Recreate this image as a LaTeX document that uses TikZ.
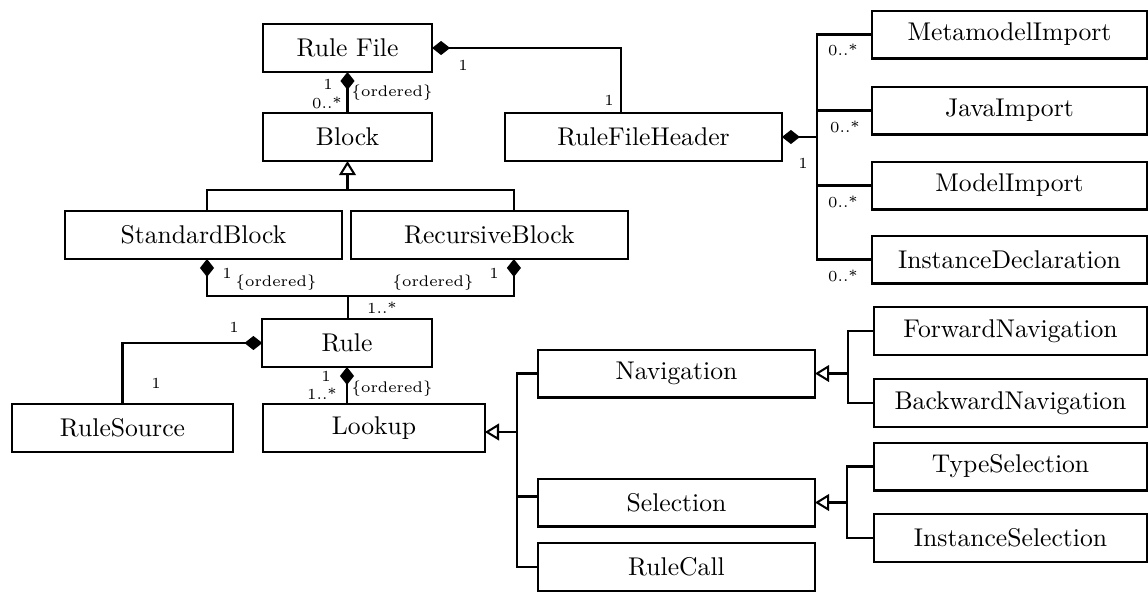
\documentclass[tikz,border=0pt]{standalone}
\usetikzlibrary{arrows.meta, positioning, calc}

\begin{document}
\begin{tikzpicture}[
    x=0.39pt, y=-0.39pt,
    box/.style={rectangle, draw=black, line width=0.8pt, minimum width=66pt, minimum height=18.7pt, inner sep=0pt, outer sep=0pt},
    wide/.style={box, minimum width=108pt},
    mid/.style={box, minimum width=86.5pt},
    link/.style={line width=0.8pt},
    comp/.style={link, {Diamond[length=7pt,width=5.5pt]}-},
    gen/.style={link, {Triangle[open,length=5.5pt,width=6.5pt]}-},
    mult/.style={font=\fontsize{6}{7}\selectfont, inner sep=0pt}
]
    \useasboundingbox (0,0) rectangle (1148,592);

    \node[box] (rulefile) at (347.5,48) {Rule File};
    \node[box] (block) at (347.5,137) {Block};
    \node[wide] (header) at (643.5,137) {RuleFileHeader};
    \node[wide] (stdblock) at (203.5,235) {StandardBlock};
    \node[wide, right=3.5pt of stdblock] (recblock) {RecursiveBlock};
    \node[box] (rule) at (347,343) {Rule};
    \node[mid] (rulesource) at (122.5,428) {RuleSource};
    \node[mid] (lookup) at (374,428) {Lookup};

    % imports
    \node[wide, minimum width=107pt] (metaimp) at (1009.5,34.5) {MetamodelImport};
    \node[wide, minimum width=107pt] (javaimp) at (1009.5,110.5) {JavaImport};
    \node[wide, minimum width=107pt] (modelimp) at (1009.5,185.5) {ModelImport};
    \node[wide, minimum width=107pt] (instdecl) at (1009.5,259.5) {InstanceDeclaration};

    % lookups
    \node[wide] (navigation) at (676.5,373.5) {Navigation};
    \node[wide] (selection) at (676.5,502.5) {Selection};
    \node[wide] (rulecall) at (676.5,567) {RuleCall};
    \node[wide, minimum width=106.5pt] (fwdnav) at (1010.5,331) {ForwardNavigation};
    \node[wide, minimum width=106.5pt] (bwdnav) at (1010.5,403) {BackwardNavigation};
    \node[wide, minimum width=106.5pt] (typesel) at (1010.5,466.5) {TypeSelection};
    \node[wide, minimum width=106.5pt] (instsel) at (1010.5,538) {InstanceSelection};

    % rule file
    \draw[comp] (rulefile.east) -| ($(header.north)+(-22.5,0)$);
    \draw[comp] (rulefile.south) -- (block.north);
    \node[mult] (m1) at (463,65) {1};
    \node[mult] (m2) at (609,100) {1};
    \node[mult] (m3) at (328,84) {1};
    \node[mult] (m4) at (327,103) {0..*};
    \node[mult] (o1) at (392,93) {\{ordered\}};

    % block kinds
    \coordinate (bj) at (347.5,190);
    \draw[gen] (block.south) -- (bj);
    \draw[link] ($(stdblock.north)+(3.5,0)$) |- (bj) -| ($(recblock.north)+(24.5,0)$);

    \coordinate (rj) at (348,296);
    \draw[comp] ($(stdblock.south)+(3.5,0)$) |- (rj);
    \draw[comp] ($(recblock.south)+(24.5,0)$) |- (rj);
    \draw[link] (rj) -- (rj |- rule.north);
    \node[mult] (m5) at (227,273) {1};
    \node[mult] (o2) at (276,283) {\{ordered\}};
    \node[mult] (o3) at (433,283) {\{ordered\}};
    \node[mult] (m6) at (494,273) {1};
    \node[mult] (m7) at (382,308) {1..*};

    % rule
    \draw[comp] (rule.west) -| (rulesource.north);
    \draw[comp] (rule.south) -- (rule.south |- lookup.north);
    \node[mult] (m8) at (234,327) {1};
    \node[mult] (m9) at (156,383) {1};
    \node[mult] (m10) at (326,376) {1};
    \node[mult] (m11) at (322,394) {1..*};
    \node[mult] (o4) at (392,389) {\{ordered\}};

    % lookup kinds
    \draw[gen] ($(lookup.east)+(0,4)$) -- ++(32,0) coordinate (lj);
    \draw[link] (navigation.west) -| (lj) |- (rulecall.west);
    \draw[link] ($(selection.west)+(0,-6)$) -- (lj |- {$(selection.west)+(0,-6)$});

    \draw[gen] (navigation.east) -- ++(33,0) coordinate (nj);
    \draw[link] (fwdnav.west) -| (nj) |- (bwdnav.west);

    \draw[gen] (selection.east) -- ++(32,0) coordinate (sj);
    \draw[link] (typesel.west) -| (sj) |- (instsel.west);

    % header
    \draw[comp] (header.east) -- ++(35,0) coordinate (hj);
    \draw[link] (metaimp.west) -| (hj) |- (instdecl.west);
    \draw[link] (hj |- javaimp.west) -- (javaimp.west);
    \draw[link] (hj |- modelimp.west) -- (modelimp.west);
    \node[mult] (m12) at (803,163) {1};
    \node[mult] (m13) at (843,50) {0..*};
    \node[mult] (m14) at (845,127) {0..*};
    \node[mult] (m15) at (843,202) {0..*};
    \node[mult] (m16) at (843,276) {0..*};
\end{tikzpicture}
\end{document}
